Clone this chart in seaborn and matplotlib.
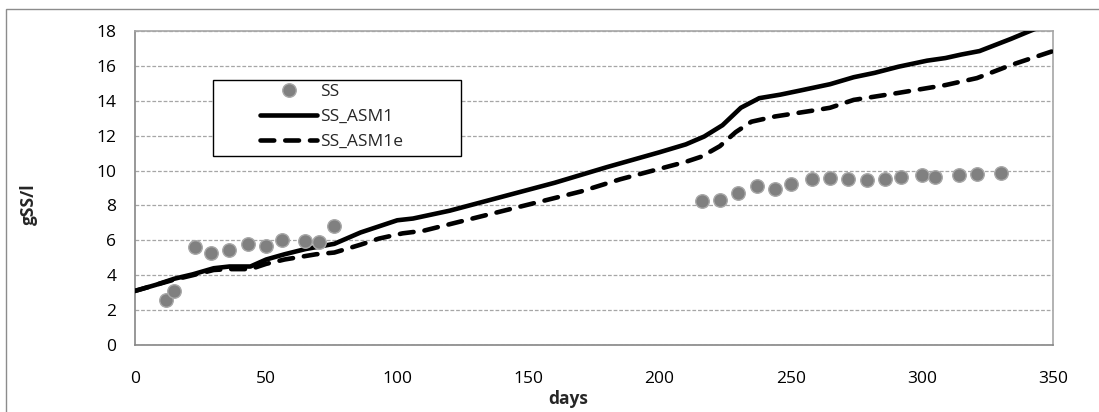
import numpy as np
import pandas as pd
import matplotlib
matplotlib.use("Agg")
import matplotlib.pyplot as plt
import seaborn as sns
from matplotlib.patches import Rectangle
from matplotlib.lines import Line2D

# ---- data ----
ss_days = [12, 15, 23, 29, 36, 43, 50, 56, 65, 70, 76,
           216, 223, 230, 237, 244, 250, 258, 265, 272, 279, 286, 292, 300, 305, 314, 321, 330]
ss_vals = [2.6, 3.1, 5.6, 5.3, 5.47, 5.77, 5.65, 6.04, 5.98, 5.92, 6.82,
           8.27, 8.33, 8.73, 9.13, 8.96, 9.23, 9.54, 9.59, 9.52, 9.46, 9.54, 9.65, 9.75, 9.62, 9.77, 9.82, 9.85]

asm1_days = [0, 8, 15, 22, 30, 36, 44, 50, 57, 65, 76, 86, 100, 106, 120, 140, 160, 180, 200, 210,
             217, 224, 231, 238, 246, 254, 265, 274, 282, 291, 302, 309, 315, 322, 334, 342, 350]
asm1_vals = [3.1, 3.45, 3.8, 4.05, 4.4, 4.5, 4.5, 4.9, 5.2, 5.5, 5.8, 6.45, 7.15, 7.25, 7.7, 8.5, 9.3, 10.2, 11.05, 11.5,
             11.95, 12.6, 13.6, 14.15, 14.35, 14.6, 14.95, 15.35, 15.6, 15.95, 16.3, 16.45, 16.65, 16.85, 17.55, 18.05, 18.5]

asm1e_days = [0, 8, 15, 22, 30, 36, 44, 50, 57, 69, 76, 86, 93, 102, 110, 130, 150, 170, 185, 200, 210,
              216, 223, 229, 235, 244, 259, 265, 274, 291, 309, 321, 334, 350]
asm1e_vals = [3.1, 3.45, 3.75, 4.0, 4.3, 4.35, 4.35, 4.65, 4.9, 5.2, 5.3, 5.75, 6.1, 6.4, 6.55, 7.3, 8.05, 8.8, 9.5, 10.1, 10.5,
              10.8, 11.4, 12.2, 12.8, 13.1, 13.45, 13.6, 14.05, 14.45, 14.9, 15.3, 16.05, 16.85]

x_ticks = [0, 50, 100, 150, 200, 250, 300, 350]
y_ticks = [0, 2, 4, 6, 8, 10, 12, 14, 16, 18]
legend_labels = ['SS', 'SS_ASM1', 'SS_ASM1e']

# ---- style ----
sns.set_style("white")
plt.rcParams['font.family'] = ['Open Sans', 'DejaVu Sans']

W, H = 1099, 412
L, R, T, B = 135, 1053, 31, 345
fig = plt.figure(figsize=(W / 100, H / 100), dpi=100)
ax = fig.add_axes([L / W, 1 - B / H, (R - L) / W, (B - T) / H])


def ax_x(px):
    return (px - L) / (R - L)


def ax_y(py):
    return (B - py) / (B - T)


# outer chart border (cropped at right/bottom)
fig.patches.append(Rectangle((6 / W, -0.05), 1.2, 1 - 9 / H + 0.05, transform=fig.transFigure,
                             fill=False, edgecolor='#8c8c8c', linewidth=1.0, zorder=0))

ss_df = pd.DataFrame({'days': ss_days, 'val': ss_vals})
a_df = pd.DataFrame({'days': asm1_days, 'val': asm1_vals})
e_df = pd.DataFrame({'days': asm1e_days, 'val': asm1e_vals})

LW = 3.3
DASH = (0, (3.0, 2.4))
sns.lineplot(data=a_df, x='days', y='val', ax=ax, color='black', linewidth=LW,
             solid_capstyle='round', solid_joinstyle='round', zorder=3)
sns.lineplot(data=e_df, x='days', y='val', ax=ax, color='black', linewidth=LW,
             linestyle=DASH, dash_capstyle='round', zorder=3)
sns.scatterplot(data=ss_df, x='days', y='val', ax=ax, color='#808080', s=95,
                edgecolor='#a8a8a8', linewidth=1.0, zorder=4)

ax.set_xlim(0, 350)
ax.set_ylim(0, 18)
ax.set_xticks(x_ticks)
ax.set_yticks(y_ticks)
ax.set_xticklabels([str(t) for t in x_ticks], fontsize=12.5)
ax.set_yticklabels([str(t) for t in y_ticks], fontsize=12.5)

ax.yaxis.grid(True, linestyle=(0, (3, 1.5)), color='#a6a6a6', linewidth=0.9)
ax.set_axisbelow(True)
for s in ['left', 'bottom']:
    ax.spines[s].set_color('#868686')
    ax.spines[s].set_linewidth(1.2)
for s in ['top', 'right']:
    ax.spines[s].set_color('#a6a6a6')
    ax.spines[s].set_linewidth(1.2)
ax.tick_params(axis='both', direction='out', length=5, width=1.0, color='#868686',
               labelcolor='black')
ax.tick_params(axis='x', pad=14)
ax.tick_params(axis='y', pad=8.5)

ax.set_xlabel('days', fontsize=12.5, fontweight='bold')
ax.xaxis.set_label_coords(ax_x(568), ax_y(390))
ax.set_ylabel('gSS/l', fontsize=12.5, fontweight='bold')
ax.yaxis.set_label_coords(ax_x(38), ax_y(204.5))

# legend box (Excel style, with empty margins)
ax.add_patch(Rectangle((ax_x(213), ax_y(156)), ax_x(461) - ax_x(213), ax_y(80) - ax_y(156),
                       transform=ax.transAxes, facecolor='white', edgecolor='black',
                       linewidth=1.0, zorder=5, clip_on=False))
handles = [
    Line2D([], [], linestyle='none', marker='o', markersize=9.7, markerfacecolor='#808080',
           markeredgecolor='#a8a8a8'),
    Line2D([], [], color='black', linewidth=LW, solid_capstyle='round'),
    Line2D([], [], color='black', linewidth=LW, linestyle=DASH, dash_capstyle='round'),
]
leg = ax.legend(handles, legend_labels, loc='center left',
                bbox_to_anchor=(ax_x(260), ax_y(117)),
                fontsize=12.5, frameon=False,
                handlelength=3.3, handletextpad=0.15, borderpad=0, labelspacing=0.5,
                borderaxespad=0)
leg.set_zorder(6)

fig.savefig('out.png', dpi=100)
